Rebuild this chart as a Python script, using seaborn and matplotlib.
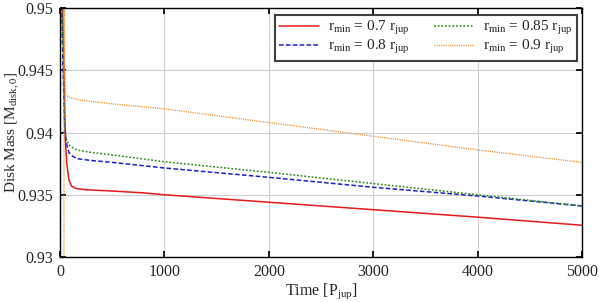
import numpy as np
import pandas as pd
import matplotlib
matplotlib.use("Agg")
import matplotlib.pyplot as plt
import seaborn as sns

# DATA
t_red = [0, 25, 40, 50, 65, 85, 110, 150, 250, 500, 800, 1000, 2000, 3000, 4000, 5000]
m_red = [0.96, 0.95, 0.9445, 0.9395, 0.9375, 0.9362, 0.9357, 0.9355, 0.9354, 0.9353,
         0.93515, 0.93500, 0.9344, 0.9338, 0.9332, 0.93255]

t_blue = [0, 15, 30, 45, 60, 85, 120, 160, 300, 500, 1000, 2000, 3000, 4000, 5000]
m_blue = [0.96, 0.95, 0.945, 0.9405, 0.9392, 0.9384, 0.9381, 0.9379, 0.93775, 0.9376,
          0.93715, 0.9364, 0.9356, 0.9349, 0.9341]

t_green = [0, 15, 30, 45, 60, 85, 120, 160, 300, 500, 1000, 2000, 3000, 4000, 5000]
m_green = [0.96, 0.951, 0.946, 0.9405, 0.9395, 0.939, 0.9388, 0.9386, 0.9384, 0.9382,
           0.93765, 0.9368, 0.9359, 0.9350, 0.9341]

t_orange = [38, 38, 45, 55, 100, 200, 500, 1000, 2000, 3000, 4000, 5000]
m_orange = [0.925, 0.96, 0.9455, 0.943, 0.9428, 0.9426, 0.9423, 0.9419, 0.9408,
            0.9397, 0.9386, 0.9376]

labels = [r"$\mathrm{r_{min}}$ = 0.7 $\mathrm{r_{jup}}$",
          r"$\mathrm{r_{min}}$ = 0.8 $\mathrm{r_{jup}}$",
          r"$\mathrm{r_{min}}$ = 0.85 $\mathrm{r_{jup}}$",
          r"$\mathrm{r_{min}}$ = 0.9 $\mathrm{r_{jup}}$"]

sns.set_theme(style="ticks")
plt.rcParams["font.family"] = ["Liberation Serif", "DejaVu Serif"]
plt.rcParams["mathtext.fontset"] = "custom"
plt.rcParams["mathtext.rm"] = "Liberation Serif"
plt.rcParams["mathtext.it"] = "Liberation Serif:italic"

fig = plt.figure(figsize=(6.0, 3.02), dpi=100)
ax = fig.add_axes([0.1, 0.149, 0.87, 0.8245])

series = [
    (t_red, m_red, "#e41a1c", "-", 1.1),
    (t_blue, m_blue, "#1f1fd0", (0, (3, 1.5)), 1.1),
    (t_green, m_green, "#2a8a1a", (0, (1.2, 1.2)), 1.1),
    (t_orange, m_orange, "#f09030", (0, (0.8, 0.8)), 1.0),
]
for (t, m, c, ls, lw), lab in zip(series, labels):
    df = pd.DataFrame({"t": t, "m": m})
    sns.lineplot(data=df, x="t", y="m", ax=ax, color=c, linestyle=ls,
                 linewidth=lw, label=lab, sort=False, estimator=None)

ax.set_xlim(0, 5000)
ax.set_ylim(0.93, 0.95)
ax.set_xticks([0, 1000, 2000, 3000, 4000, 5000])
ax.set_yticks([0.93, 0.935, 0.94, 0.945, 0.95])
ax.set_yticklabels(["0.93", "0.935", "0.94", "0.945", "0.95"])
ax.grid(True, color="#d0d0d0", linewidth=0.8)
ax.tick_params(direction="in", top=True, right=True, length=4, labelsize=11.5,
               color="black", pad=5)
for s in ax.spines.values():
    s.set_color("black")
    s.set_linewidth(1.0)

ax.set_xlabel(r"Time [$\mathrm{P_{jup}}$]", fontsize=11.5, labelpad=1)
ax.set_ylabel(r"Disk Mass [$\mathrm{M_{disk,0}}$]", fontsize=11, labelpad=2)
ax.yaxis.set_label_coords(-0.072, 0.5)

leg = ax.legend(loc="upper right", ncol=2, fontsize=11, frameon=True,
                fancybox=False, edgecolor="#404040", framealpha=1,
                handlelength=2.6, columnspacing=1.6, borderpad=0.3,
                labelspacing=0.05, handletextpad=0.6, borderaxespad=0.2,
                bbox_to_anchor=(0.996, 0.985))
leg.get_frame().set_linewidth(1.5)

fig.savefig("out.png", dpi=100)
